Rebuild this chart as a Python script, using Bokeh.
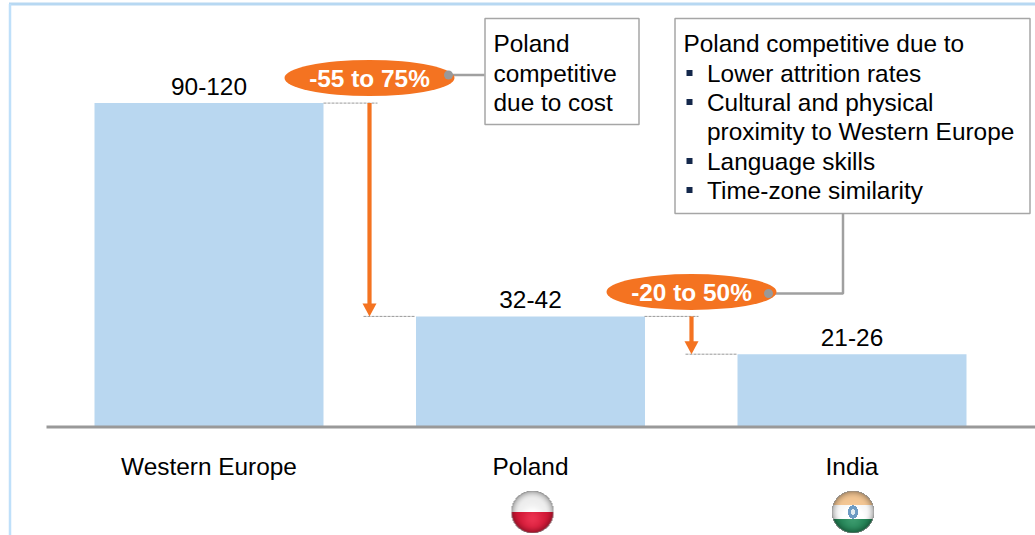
import numpy as np
from bokeh.plotting import figure
from bokeh.embed import file_html
from bokeh.resources import INLINE
from bokeh.models import Range1d, LinearAxis, FixedTicker
from bokeh.core.properties import value

categories = ["Western Europe", "Poland", "India"]
bar_values = [120, 41, 27]
range_labels = ["90-120", "32-42", "21-26"]
bubble_labels = ["-55 to 75%", "-20 to 50%"]
box1_lines = ["Poland", "competitive", "due to cost"]
box2_lines = ["Poland competitive due to", "Lower attrition rates", "Cultural and physical",
              "proximity to Western Europe", "Language skills", "Time-zone similarity"]
box2_bullets = [i in (1, 2, 4, 5) for i in range(6)]

FONT = value("Liberation Sans")
FS = "24.4px"
ORANGE = "#F47321"
GREY = "#A0A0A0"
BAR = "#B9D7F0"

W, H = 1035, 535
x0 = 208.5; dx = 321.5; y0 = 426.6; dy = 2.7
p = figure(width=W, height=H, output_backend="svg", toolbar_location=None,
           x_range=Range1d((0 - x0) / dx, (W - x0) / dx),
           y_range=Range1d((y0 - H) / dy, y0 / dy),
           min_border=0, outline_line_color=None, background_fill_color="white",
           x_axis_location=None, y_axis_location=None, margin=(0, 0, 0, 0))
p.grid.visible = False
p.extra_x_ranges["px"] = Range1d(1, W + 1)
p.extra_y_ranges["px"] = Range1d(H + 0.5, 0.5)
PX = dict(x_range_name="px", y_range_name="px")
PXX = dict(x_range_name="px")

p.segment([9.5, 10.5], [4, 4], [W + 1, 10.5], [4, H + 1], line_color=["#B7D8F2", "#BFE0FA"], line_width=[3, 2.5], **PX)

xs = list(range(len(categories)))
p.vbar(x=xs, top=bar_values, bottom=0, width=229 / dx, fill_color=BAR, line_color=None)

ax = LinearAxis(ticker=FixedTicker(ticks=xs), fixed_location=0,
                major_label_overrides={i: c for i, c in enumerate(categories)},
                major_tick_line_color=None, minor_tick_line_color=None,
                axis_line_color=None,
                major_label_text_font="Liberation Sans", major_label_text_font_size=FS,
                major_label_text_color="black", major_label_standoff=20)
p.add_layout(ax, "below")
p.segment([47], [0], [W + 1], [0], line_color="#999999", line_width=3, x_range_name="px")

p.text(xs, bar_values, text=range_labels, text_font=FONT, text_font_size=FS, text_align="center",
       text_baseline="middle", y_offset=-17, text_color="black")

dash = dict(line_color="#999999", line_width=1, line_dash="3 1")
p.segment([324, 364, 645, 686], [bar_values[0], bar_values[1], bar_values[1], bar_values[2]],
          [378, 416, 699, 738], [bar_values[0], bar_values[1], bar_values[1], bar_values[2]], **dash, **PXX)

for x, a, b in [(370, bar_values[0], bar_values[1]), (692, bar_values[1], bar_values[2])]:
    p.segment([x], [a], [x], [b + 12 / dy], line_color=ORANGE, line_width=4.2, **PXX)
    p.patch([x - 7, x + 7, x], [b + 13 / dy, b + 13 / dy, b], fill_color=ORANGE, line_color=None, **PXX)

p.quad(left=[485.5, 675.5], right=[639.5, 1030.5], top=[18.5, 18.5], bottom=[124.5, 213.5],
       fill_color="white", line_color="#A6A6A6", line_width=1.5, **PX)

p.line([449, 485], [75, 75], line_color=GREY, line_width=2.5, **PX)
p.line([769, 843.5, 843.5], [293.5, 293.5, 213], line_color=GREY, line_width=2.5, **PX)

p.ellipse([370, 692], [78, 292], width=170, height=36, fill_color=ORANGE, line_color=None, **PX)
p.scatter([449, 769], [75, 293.5], size=9, fill_color="#999999", line_color=None, **PX)
p.text([370, 692], [78, 292], text=bubble_labels, text_font=FONT, text_font_style="bold", text_font_size=FS,
       text_color="white", text_align="center", text_baseline="middle", **PX)

p.text([494] * 3, [43, 73, 102], text=box1_lines, text_font=FONT, text_font_size=FS,
       text_baseline="middle", text_color="black", **PX)
ty = [43, 73, 102, 131, 161, 190]
tx = [684 if i == 0 else 707.5 for i in range(6)]
p.text(tx, ty, text=box2_lines, text_font=FONT, text_font_size=FS, text_baseline="middle",
       text_color="black", **PX)
bx = [690 for b in box2_bullets if b]
by = [t for t, b in zip(ty, box2_bullets) if b]
p.scatter(bx, by, marker="square", size=6, fill_color="#14284B", line_color=None, **PX)

def flag(stripes, emblem=False):
    n = 44
    yy, xx = np.mgrid[-1:1:n * 1j, -1:1:n * 1j]
    r = np.hypot(xx, yy)
    k = len(stripes)
    idx = np.clip(((yy + 1) / 2 * k).astype(int), 0, k - 1)
    col = np.array(stripes, dtype=float)[idx]
    # sphere shading: darker towards the rim, slightly brighter low centre
    shade = 1.0 - 0.35 * np.clip((r - 0.6) / 0.4, 0, 1) ** 2
    glow = np.exp(-(xx ** 2 + (yy - 0.3) ** 2) / 0.25)
    col = col * shade[..., None] + 30 * glow[..., None]
    if emblem:
        ring = np.hypot(xx, yy / 1.3)
        col[ring < 0.24] = [110, 155, 195]
        col[ring < 0.1] = [225, 235, 240]
    rim = np.clip((r - 0.93) / 0.07, 0, 1)[..., None]
    col = col * (1 - rim) + np.array([150, 150, 150]) * rim
    img = np.zeros((n, n, 4), dtype=np.uint8)
    img[..., :3] = np.clip(col, 0, 255)
    img[..., 3] = np.where(r <= 1, 255, 0)
    return img.view(np.uint32).reshape(n, n)

for cx, st, em in [(533, [(236, 236, 236), (205, 20, 50)], False),
                   (853.5, [(240, 195, 145), (244, 244, 244), (30, 125, 80)], True)]:
    p.image_rgba(image=[flag(st, em)], x=cx - 22, y=490, dw=44, dh=44, **PX)

open("out.html", "w").write(file_html(p, INLINE))
